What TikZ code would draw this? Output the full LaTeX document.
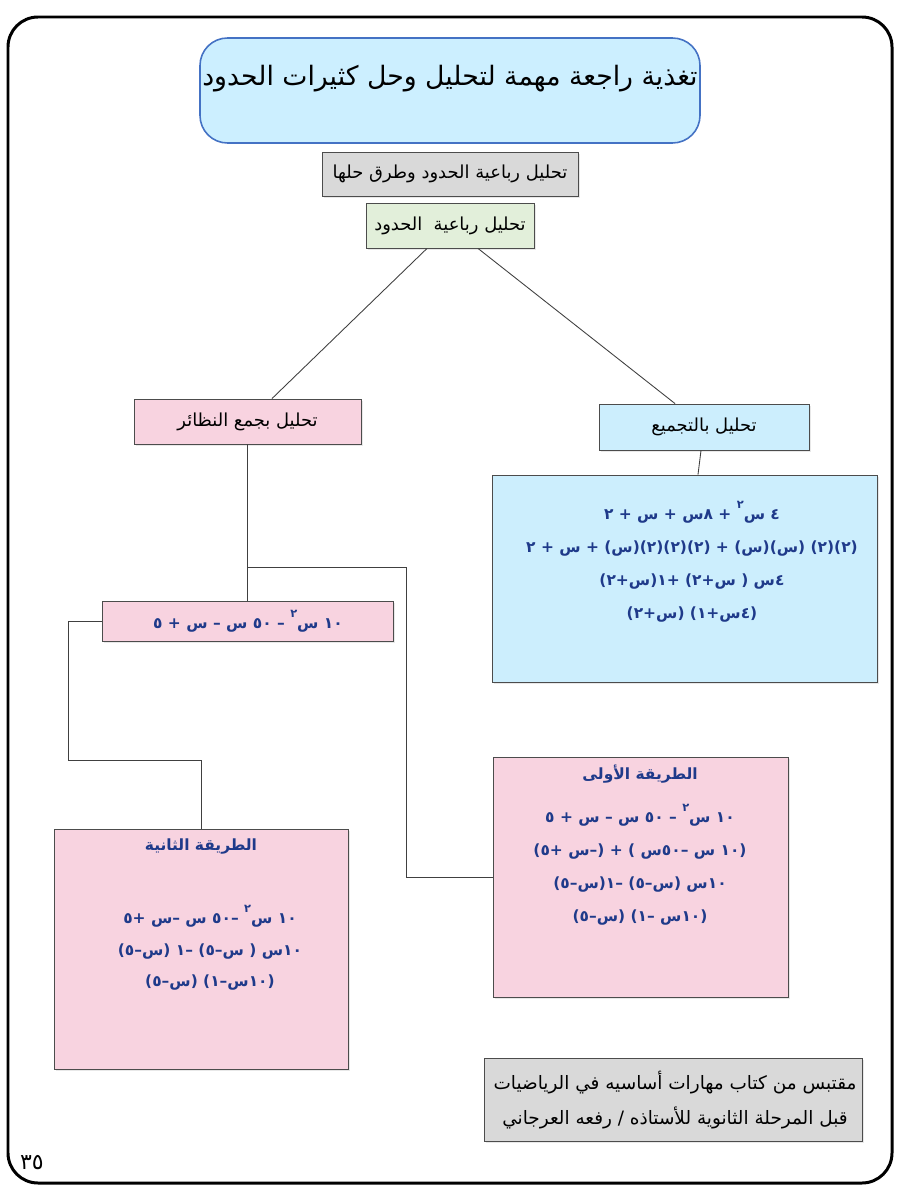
\documentclass[tikz,border=0pt]{standalone}
\usepackage{fontspec}
\newfontfamily\arabicfont[Script=Arabic]{DejaVu Sans}
\TeXXeTstate=1
\usetikzlibrary{fit}
\usetikzlibrary{shadows}
\definecolor{titlefill}{HTML}{CCEFFF}
\definecolor{titleline}{HTML}{4472C4}
\definecolor{headfill}{HTML}{D9D9D9}
\definecolor{rootfill}{HTML}{E2EFDA}
\definecolor{pinkfill}{HTML}{F8D3E0}
\definecolor{cyanfill}{HTML}{CCEEFD}
\definecolor{mathblue}{HTML}{1F3A8A}
\definecolor{wire}{HTML}{404040}
\newcommand\rtltext[1]{\beginR #1\endR}
\newcommand\powtwo{\raisebox{1.3ex}{\fontsize{6.5}{7}\selectfont ٢}}

\begin{document}
\begin{tikzpicture}[x=0.02cm,y=-0.02cm,
    box/.style={draw=gray!60!black,line width=0.5pt,inner sep=0pt,
      drop shadow={shadow xshift=1.2pt,shadow yshift=-1.2pt,opacity=0.18}},
    headbox/.style={box,fill=headfill},
    rootbox/.style={box,fill=rootfill},
    pinkbox/.style={box,fill=pinkfill},
    cyanbox/.style={box,fill=cyanfill},
    blacktext/.style={font=\arabicfont\fontsize{10.2}{12}\selectfont},
    bluetext/.style={text=mathblue,align=center,
      font=\arabicfont\bfseries\fontsize{8.8}{18.7}\selectfont},
    wire/.style={draw=wire,line width=0.5pt}]
  \useasboundingbox (0,0) rectangle (900,1200);
  % page frame
  \draw[line width=1.7pt,rounded corners=0.6cm] (8,17) rectangle (892,1183);
  \node[font=\arabicfont\fontsize{12.5}{14}\selectfont] (page) at (32,1163) {\rtltext{٣٥}};

  % title
  \node[draw=titleline,line width=0.9pt,fill=titlefill,rounded corners=0.55cm,
    inner sep=0pt,fit={(200,38) (700,143)}] (title) {};
  \node[font=\arabicfont\fontsize{15.2}{18}\selectfont] (titletxt) at (450,79)
    {\rtltext{تغذية راجعة مهمة لتحليل وحل كثيرات الحدود}};

  \node[headbox,fit={(322,152) (578,196)}] (head) {};
  \node[blacktext] (headtxt) at (head) {\rtltext{تحليل رباعية الحدود وطرق حلها}};
  \node[rootbox,fit={(366,203) (534,248)}] (root) {};
  \node[blacktext] (roottxt) at (root) {\rtltext{تحليل رباعية~ الحدود}};

  % two ways
  \node[pinkbox,fit={(134,399) (361,444)}] (pairs) {};
  \node[blacktext] (pairstxt) at (pairs) {\rtltext{تحليل بجمع النظائر}};
  \node[cyanbox,fit={(599,404) (809,450)}] (group) {};
  \node[blacktext] (grouptxt) at (group) {\rtltext{تحليل بالتجميع}};

  % grouping
  \node[cyanbox,fit={(492,475) (877,682)}] (groupsol) {};
  \node[bluetext] (groupsoltxt) at (692,562)
    {\rtltext{٤ س\powtwo{} + ٨س + س + ٢}\\
     \rtltext{(٢)(٢) (س)(س) + (٢)(٢)(٢)(س) + س + ٢}\\
     \rtltext{٤س ( س+٢) +١(س+٢)}\\
     \rtltext{(٤س+١) (س+٢)}};

  % pairs
  \node[pinkbox,fit={(102,601) (393,641)}] (expr) {};
  \node[bluetext] (exprtxt) at (248,621) {\rtltext{١٠ س\powtwo{} – ٥٠ س – س + ٥}};

  \node[pinkbox,fit={(493,757) (788,997)}] (first) {};
  \node[bluetext] (firsttitle) at (640,774) {\rtltext{الطريقة الأولى}};
  \node[bluetext] (firsttxt) at (640,865)
    {\rtltext{١٠ س\powtwo{} – ٥٠ س – س + ٥}\\
     \rtltext{(١٠ س –٥٠س ) + (–س +٥)}\\
     \rtltext{١٠س (س–٥) –١(س–٥)}\\
     \rtltext{(١٠س –١) (س–٥)}};

  \node[pinkbox,fit={(54,829) (348,1069)}] (second) {};
  \node[bluetext] (secondtitle) at (201,847) {\rtltext{الطريقة الثانية}};
  \node[bluetext,font=\arabicfont\bfseries\fontsize{8.8}{17.8}\selectfont]
    (secondtxt) at (210,948)
    {\rtltext{١٠ س\powtwo{} –٥٠ س –س +٥}\\
     \rtltext{١٠س ( س–٥) –١ (س–٥)}\\
     \rtltext{(١٠س–١) (س–٥)}};

  % source
  \node[headbox,fit={(484,1058) (862,1141)}] (source) {};
  \node[align=center,font=\arabicfont\fontsize{10.5}{20.4}\selectfont]
    (sourcetxt) at (675,1100)
    {\rtltext{مقتبس من كتاب مهارات أساسيه في الرياضيات}\\
     \rtltext{قبل المرحلة الثانوية للأستاذه / رفعه العرجاني}};

  % connectors
  \coordinate (split) at (247.5,567);
  \coordinate (splitright) at (406,567);
  \coordinate (leftbend) at (68,621);
  \coordinate (lowbend) at (68,760);
  \draw[wire] ([xshift=-0.46cm]root.south) -- ([xshift=0.49cm]pairs.north);
  \draw[wire] ([xshift=0.56cm]root.south) -- ([xshift=-0.58cm]group.north);
  \draw[wire] ([xshift=-0.06cm]group.south) -- ([xshift=0.27cm]groupsol.north);
  \draw[wire] (pairs.south) -- (expr.north);
  \draw[wire] (split) -- (splitright) |- (first.west);
  \draw[wire] (expr.west) -- (leftbend) -- (lowbend) -| (second.north);
\end{tikzpicture}
\end{document}
